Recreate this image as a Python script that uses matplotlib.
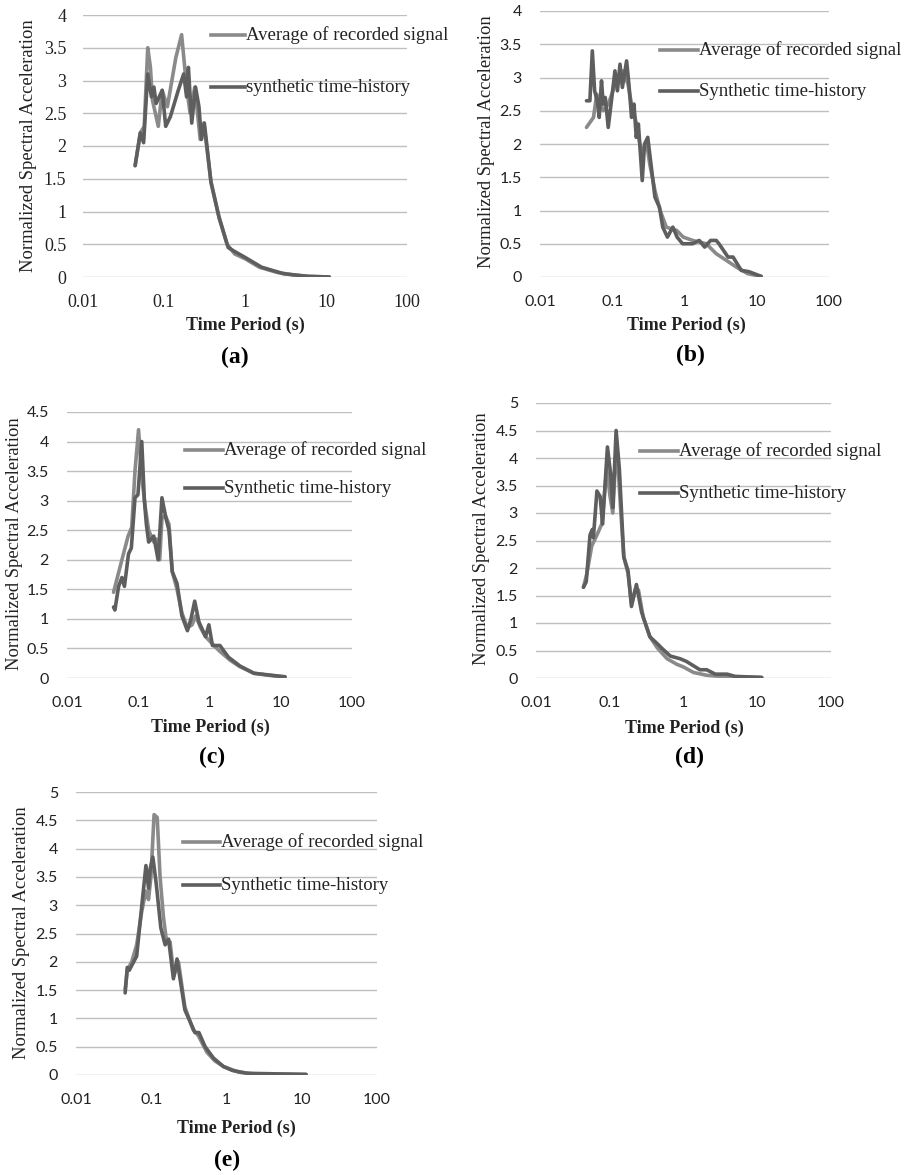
import matplotlib
matplotlib.use("Agg")
import matplotlib.pyplot as plt
from matplotlib.lines import Line2D
from matplotlib.ticker import FixedLocator, NullLocator

# ---- data (period in s, normalized Sa) ----
# (a)
a_avg_T = [0.044, 0.051, 0.057, 0.063, 0.068, 0.072, 0.085, 0.095, 0.11, 0.14, 0.165, 0.19, 0.21, 0.24, 0.28, 0.31, 0.38, 0.47, 0.6, 0.75, 1.0, 1.5, 2.5, 4.0, 6.0, 11.0]
a_avg_S = [1.7, 2.2, 2.3, 3.5, 3.2, 2.7, 2.3, 2.85, 2.6, 3.35, 3.7, 2.9, 2.5, 2.9, 2.1, 2.35, 1.45, 0.95, 0.5, 0.35, 0.28, 0.15, 0.07, 0.03, 0.01, 0.0]
a_syn_T = [0.044, 0.051, 0.056, 0.063, 0.07, 0.075, 0.08, 0.095, 0.105, 0.12, 0.15, 0.175, 0.19, 0.2, 0.22, 0.245, 0.27, 0.29, 0.315, 0.38, 0.48, 0.62, 0.72, 1.0, 1.6, 3.0, 6.0, 11.0]
a_syn_S = [1.7, 2.2, 2.05, 3.1, 2.75, 2.9, 2.65, 2.85, 2.3, 2.45, 2.85, 3.1, 2.75, 3.2, 2.35, 2.9, 2.6, 2.1, 2.35, 1.45, 0.9, 0.45, 0.4, 0.3, 0.15, 0.05, 0.01, 0.0]

# (b)
b_avg_T = [0.044, 0.055, 0.061, 0.075, 0.088, 0.115, 0.14, 0.165, 0.185, 0.217, 0.25, 0.3, 0.33, 0.39, 0.46, 0.56, 0.78, 0.96, 1.3, 2.0, 2.75, 3.8, 5.2, 7.5, 11.5]
b_avg_S = [2.25, 2.4, 2.75, 2.5, 2.6, 2.95, 3.1, 2.9, 2.6, 2.3, 1.9, 2.0, 1.7, 1.3, 1.0, 0.75, 0.7, 0.6, 0.55, 0.5, 0.35, 0.25, 0.15, 0.05, 0.01]
b_syn_T = [0.044, 0.049, 0.053, 0.057, 0.062, 0.066, 0.071, 0.075, 0.08, 0.088, 0.095, 0.109, 0.118, 0.128, 0.138, 0.158, 0.17, 0.185, 0.2, 0.215, 0.23, 0.26, 0.28, 0.31, 0.39, 0.45, 0.5, 0.58, 0.69, 0.79, 0.94, 1.3, 1.6, 1.9, 2.3, 2.75, 3.0, 4.0, 4.7, 6.1, 7.8, 11.5]
b_syn_S = [2.65, 2.65, 3.4, 2.8, 2.65, 2.4, 2.95, 2.6, 2.7, 2.25, 2.55, 3.1, 2.8, 3.2, 2.85, 3.25, 2.9, 2.4, 2.6, 2.1, 2.3, 1.45, 2.0, 2.1, 1.2, 1.05, 0.75, 0.6, 0.75, 0.6, 0.5, 0.5, 0.55, 0.45, 0.55, 0.55, 0.5, 0.3, 0.3, 0.1, 0.08, 0.01]

# (c)
c_avg_T = [0.045, 0.059, 0.072, 0.081, 0.09, 0.101, 0.112, 0.125, 0.14, 0.165, 0.18, 0.2, 0.215, 0.24, 0.27, 0.3, 0.35, 0.41, 0.49, 0.57, 0.64, 0.75, 0.88, 1.15, 1.4, 1.95, 2.6, 4.2, 6.4, 8.9, 11.5]
c_avg_S = [1.45, 2.0, 2.4, 2.55, 3.5, 4.2, 3.4, 2.9, 2.5, 2.3, 2.35, 2.0, 2.7, 2.75, 2.6, 1.8, 1.5, 1.1, 0.85, 0.9, 1.05, 0.85, 0.7, 0.55, 0.45, 0.3, 0.2, 0.08, 0.05, 0.03, 0.02]
c_syn_T = [0.045, 0.047, 0.053, 0.059, 0.064, 0.073, 0.08, 0.09, 0.099, 0.112, 0.122, 0.13, 0.14, 0.165, 0.19, 0.215, 0.245, 0.27, 0.3, 0.35, 0.41, 0.49, 0.55, 0.62, 0.71, 0.88, 0.98, 1.1, 1.4, 1.85, 2.7, 4.2, 7.0, 11.5]
c_syn_S = [1.2, 1.15, 1.55, 1.7, 1.55, 2.1, 2.2, 3.05, 3.1, 4.0, 3.0, 2.6, 2.3, 2.4, 2.0, 3.05, 2.7, 2.5, 1.8, 1.6, 1.05, 0.8, 1.0, 1.3, 0.95, 0.7, 0.9, 0.55, 0.55, 0.35, 0.2, 0.08, 0.05, 0.02]

# (d)
d_avg_T = [0.044, 0.049, 0.057, 0.067, 0.078, 0.091, 0.101, 0.11, 0.124, 0.14, 0.155, 0.177, 0.197, 0.22, 0.245, 0.285, 0.35, 0.44, 0.6, 0.81, 1.0, 1.37, 2.06, 3.1, 5.0, 11.5]
d_avg_S = [1.65, 1.9, 2.4, 2.6, 2.8, 3.8, 3.3, 3.0, 4.3, 3.1, 2.2, 1.9, 1.35, 1.6, 1.6, 1.1, 0.75, 0.55, 0.35, 0.25, 0.2, 0.1, 0.05, 0.03, 0.02, 0.01]
d_syn_T = [0.044, 0.048, 0.054, 0.058, 0.06, 0.067, 0.074, 0.08, 0.093, 0.103, 0.11, 0.122, 0.135, 0.155, 0.177, 0.197, 0.23, 0.27, 0.35, 0.46, 0.5, 0.66, 0.9, 1.1, 1.67, 2.06, 2.7, 3.9, 5.0, 11.5]
d_syn_S = [1.65, 1.75, 2.6, 2.7, 2.55, 3.4, 3.3, 2.8, 4.2, 3.7, 3.1, 4.5, 3.8, 2.2, 1.95, 1.3, 1.7, 1.2, 0.75, 0.6, 0.55, 0.4, 0.35, 0.3, 0.15, 0.15, 0.07, 0.07, 0.03, 0.01]

# (e)
e_avg_T = [0.045, 0.048, 0.055, 0.064, 0.075, 0.085, 0.092, 0.099, 0.109, 0.12, 0.131, 0.145, 0.16, 0.178, 0.2, 0.23, 0.28, 0.36, 0.42, 0.55, 0.7, 0.91, 1.45, 2.3, 11.4]
e_avg_S = [1.5, 1.85, 2.0, 2.3, 2.9, 3.25, 3.1, 3.5, 4.6, 4.55, 3.5, 2.8, 2.35, 2.35, 1.75, 2.0, 1.2, 0.8, 0.7, 0.4, 0.25, 0.15, 0.05, 0.02, 0.01]
e_syn_T = [0.045, 0.048, 0.051, 0.064, 0.075, 0.085, 0.092, 0.097, 0.105, 0.116, 0.134, 0.153, 0.17, 0.197, 0.22, 0.235, 0.28, 0.38, 0.43, 0.52, 0.67, 0.91, 1.2, 1.9, 11.4]
e_syn_S = [1.45, 1.9, 1.85, 2.1, 3.0, 3.7, 3.3, 3.65, 3.85, 3.4, 2.6, 2.3, 2.4, 1.7, 2.05, 1.8, 1.15, 0.75, 0.75, 0.5, 0.3, 0.15, 0.08, 0.03, 0.01]

x_ticks = [0.01, 0.1, 1, 10, 100]
x_tick_labels = ["0.01", "0.1", "1", "10", "100"]
avg_label = "Average of recorded signal"
syn_labels = ["synthetic time-history", "Synthetic time-history", "Synthetic time-history",
              "Synthetic time-history", "Synthetic time-history"]
panel_tags = ["(a)", "(b)", "(c)", "(d)", "(e)"]
y_max = [4, 4, 4.5, 5, 5]

series = [
    (a_avg_T, a_avg_S, a_syn_T, a_syn_S),
    (b_avg_T, b_avg_S, b_syn_T, b_syn_S),
    (c_avg_T, c_avg_S, c_syn_T, c_syn_S),
    (d_avg_T, d_avg_S, d_syn_T, d_syn_S),
    (e_avg_T, e_avg_S, e_syn_T, e_syn_S),
]

# ---- layout (pixels in a 918x1175 figure) ----
W, H = 918, 1175
# axes box: left, right, top, bottom (pixel)
boxes = [(83, 407, 15, 277), (540, 829, 11, 277), (67, 352, 412, 678),
         (536, 831, 403, 678), (76, 377, 792, 1075)]
# legend: line x0, x1, y avg, y syn
legends = [(211, 245, 35, 87), (660, 698, 50, 91), (185, 223, 450, 488),
           (640, 678, 451, 493), (183, 220, 842, 885)]
xlabel_pos = [(245, 325), (686, 325), (210, 727), (684, 728), (236, 1128)]
ylabel_pos = [(29, 146), (487, 142), (15, 544), (482, 539), (22, 933)]
tag_pos = [(235, 357), (690, 355), (212, 757), (690, 757), (227, 1160)]

c_avg = "#8a8a8a"
c_syn = "#5e5e5e"
serif = "Liberation Serif"
sans = "Lato"
lw = 2.6

fig = plt.figure(figsize=(W / 100, H / 100), dpi=100)

def fx(px):
    return px / W

def fy(py):
    return 1 - py / H

for i, (avgT, avgS, synT, synS) in enumerate(series):
    l, r, t, b = boxes[i]
    ax = fig.add_axes([fx(l), fy(b), fx(r - l), (b - t) / H])
    ax.plot(avgT, avgS, color=c_avg, lw=lw, solid_joinstyle="round", solid_capstyle="round")
    ax.plot(synT, synS, color=c_syn, lw=lw, solid_joinstyle="round", solid_capstyle="round")
    ax.set_xscale("log")
    ax.set_xlim(0.01, 100)
    ax.set_ylim(0, y_max[i])
    ax.xaxis.set_major_locator(FixedLocator(x_ticks))
    ax.xaxis.set_minor_locator(NullLocator())
    ax.set_xticklabels(x_tick_labels)
    yt = [k * 0.5 for k in range(int(y_max[i] * 2) + 1)]
    ax.set_yticks(yt)
    ax.set_yticklabels(["%g" % v for v in yt])
    ax.grid(axis="y", color="#bfbfbf", lw=1.0)
    ax.set_axisbelow(True)
    for s in ax.spines.values():
        s.set_visible(False)
    ax.tick_params(length=0, pad=12 if i == 0 else 13, labelcolor="#222222")
    fam = serif if i == 0 else sans
    for lab in ax.get_xticklabels() + ax.get_yticklabels():
        lab.set_fontfamily(fam)
        lab.set_fontsize(13 if i == 0 else 11.5)

    # manual legend
    x0, x1, ya, ys = legends[i]
    fig.add_artist(Line2D([fx(x0), fx(x1)], [fy(ya), fy(ya)], color=c_avg, lw=lw))
    fig.add_artist(Line2D([fx(x0), fx(x1)], [fy(ys), fy(ys)], color=c_syn, lw=lw))
    fig.text(fx(x1 + 1), fy(ya), avg_label, family=serif, fontsize=13.5, va="center",
             color="#222222")
    fig.text(fx(x1 + 1), fy(ys), syn_labels[i], family=serif, fontsize=13.5, va="center",
             color="#222222")

    xl, yl = xlabel_pos[i]
    fig.text(fx(xl), fy(yl), "Time Period (s)", family=serif, fontsize=13,
             fontweight="bold", ha="center", va="center", color="#222222")
    xl, yl = ylabel_pos[i]
    fig.text(fx(xl), fy(yl), "Normalized Spectral Acceleration", family=serif,
             fontsize=13.4, rotation=90, ha="center", va="center", color="#222222")
    xl, yl = tag_pos[i]
    fig.text(fx(xl), fy(yl), panel_tags[i], family=serif, fontsize=17,
             fontweight="bold", ha="center", va="center")

fig.savefig("out.png", dpi=100)
